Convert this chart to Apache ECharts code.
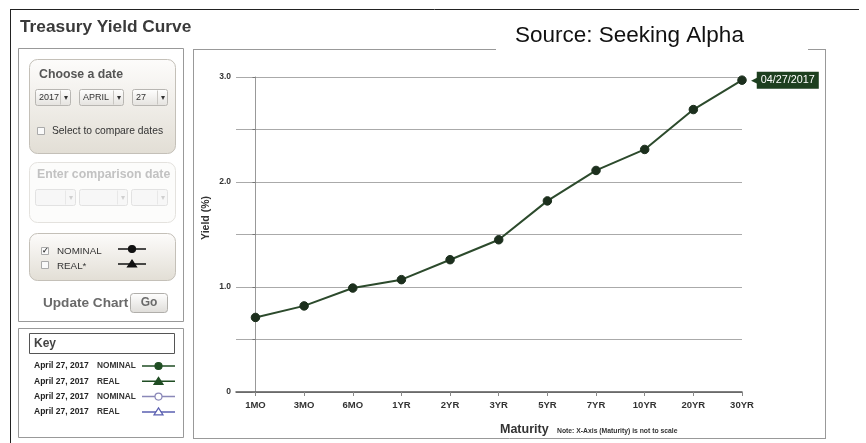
<!DOCTYPE html>
<html>
<head>
<meta charset="utf-8">
<script src="https://cdn.jsdelivr.net/npm/echarts@6/dist/echarts.min.js"></script>
<style>
  html, body { margin: 0; padding: 0; background: #fff; }
  #chart { width: 866px; height: 443px; }
</style>
</head>
<body>
<div id="chart"></div>
<script>
// Maturities along the curve and nominal yields (%) for April 27, 2017
const maturities = ['1MO', '3MO', '6MO', '1YR', '2YR', '3YR', '5YR', '7YR', '10YR', '20YR', '30YR'];
const nominalYields = [0.71, 0.82, 0.99, 1.07, 1.26, 1.45, 1.82, 2.11, 2.31, 2.69, 2.97];
const yTickLabels = { 0: '0', 1: '1.0', 2: '2.0', 3: '3.0' };
const curveDate = '04/27/2017';

const FONT = 'Liberation Sans, Arial, sans-serif';
const seriesData = nominalYields.map((v, i) => [i, v]);

// ---------- side panel widgets ----------
const g = [];
const boxGrad = (c0, c1) => ({
  type: 'linear', x: 0, y: 0, x2: 0, y2: 1,
  colorStops: [{ offset: 0, color: c0 }, { offset: 1, color: c1 }]
});
function rect(x, y, w, h, style, r) {
  g.push({ type: 'rect', shape: { x, y, width: w, height: h, r: r || 0 }, style, silent: true });
}
function text(x, y, t, style, extra) {
  g.push(Object.assign({ type: 'text', x, y, style: Object.assign({ text: t, fontFamily: FONT }, style), silent: true }, extra || {}));
}
function line(x1, y1, x2, y2, stroke, w) {
  g.push({ type: 'line', shape: { x1, y1, x2, y2 }, style: { stroke, lineWidth: w || 1 }, silent: true });
}
function dropdown(x, y, w, label, faded) {
  rect(x, y, w, 16, { fill: faded ? '#f7f7f7' : boxGrad('#ffffff', '#e4e2de'), stroke: faded ? '#e2e2e2' : '#b8b6b2', lineWidth: 1 }, 2);
  line(x + w - 10, y + 1, x + w - 10, y + 15, faded ? '#e8e8e8' : '#c8c6c2');
  if (label) text(x + 3.5, y + 8, label, { fontSize: 9, fill: '#333', verticalAlign: 'middle' });
  text(x + w - 5, y + 8, '▾', { fontSize: 8, fill: faded ? '#d0d0d0' : '#333', align: 'center', verticalAlign: 'middle' });
}
function checkbox(x, y, checked) {
  rect(x, y, 7, 7, { fill: '#fafafa', stroke: '#aaa', lineWidth: 1 });
  if (checked) text(x + 3.5, y + 3.5, '✓', { fontSize: 8, fill: '#333', align: 'center', verticalAlign: 'middle', fontWeight: 'bold' });
}
function keySymbol(x1, x2, y, color, shape, hollow) {
  line(x1, y, x2, y, color, 1.5);
  const cx = (x1 + x2) / 2;
  const style = { fill: hollow ? '#fff' : color, stroke: color, lineWidth: 1.2 };
  if (shape === 'circle') {
    g.push({ type: 'circle', shape: { cx, cy: y, r: 3.5 }, style, silent: true });
  } else {
    g.push({ type: 'polygon', shape: { points: [[cx, y - 4], [cx + 4.5, y + 3], [cx - 4.5, y + 3]] }, style, silent: true });
  }
}

// page frame and heading
line(10, 9.5, 859, 9.5, '#222', 1);
line(10.5, 9, 10.5, 443, '#222', 1);
text(20, 27, 'Treasury Yield Curve', { fontSize: 17.3, fontWeight: 'bold', fill: '#3a3a3a', verticalAlign: 'middle' });

// controls panel
rect(18.5, 48.5, 165, 273, { fill: '#fff', stroke: '#999', lineWidth: 1 });

// "Choose a date"
rect(29.5, 59.5, 146, 94, { fill: boxGrad('#fdfcfb', '#e2ded5'), stroke: '#c4c0b8', lineWidth: 1 }, 8);
text(39, 75, 'Choose a date', { fontSize: 12.3, fontWeight: 'bold', fill: '#555', verticalAlign: 'middle' });
dropdown(35.5, 89.5, 35, '2017');
dropdown(79.5, 89.5, 44, 'APRIL');
dropdown(132.5, 89.5, 35, '27');
checkbox(37.5, 127.5, false);
text(52, 131, 'Select to compare dates', { fontSize: 10.3, fill: '#333', verticalAlign: 'middle' });

// comparison date (disabled)
rect(29.5, 162.5, 146, 60, { fill: '#fcfcfb', stroke: '#e4e2de', lineWidth: 1 }, 8);
text(37, 175, 'Enter comparison date', { fontSize: 12.3, fontWeight: 'bold', fill: '#c2c2c2', verticalAlign: 'middle' });
dropdown(35.5, 189.5, 40, '', true);
dropdown(79.5, 189.5, 48, '', true);
dropdown(131.5, 189.5, 36, '', true);

// series toggles
rect(29.5, 233.5, 146, 47, { fill: boxGrad('#fdfcfb', '#e2ded5'), stroke: '#c4c0b8', lineWidth: 1 }, 8);
checkbox(41.5, 247.5, true);
text(57, 251, 'NOMINAL', { fontSize: 9.8, fill: '#333', verticalAlign: 'middle' });
checkbox(41.5, 261.5, false);
text(57, 266, 'REAL*', { fontSize: 9.8, fill: '#333', verticalAlign: 'middle' });
keySymbol(118, 146, 249, '#111', 'circle', false);
keySymbol(118, 146, 264, '#111', 'triangle', false);

// update button
text(43, 303, 'Update Chart', { fontSize: 13.6, fontWeight: 'bold', fill: '#6a6a6a', verticalAlign: 'middle' });
rect(130.5, 293.5, 37, 19, { fill: boxGrad('#ffffff', '#dedcd8'), stroke: '#b0aeaa', lineWidth: 1 }, 3);
text(149, 303, 'Go', { fontSize: 12, fontWeight: 'bold', fill: '#6a6a6a', align: 'center', verticalAlign: 'middle' });

// key panel
rect(18.5, 328.5, 165, 109, { fill: '#fff', stroke: '#999', lineWidth: 1 });
rect(29.5, 333.5, 145, 20, { fill: '#fff', stroke: '#555', lineWidth: 1 });
text(34, 344, 'Key', { fontSize: 12, fontWeight: 'bold', fill: '#444', verticalAlign: 'middle' });
const keyRows = [
  ['NOMINAL', '#1f4d23', 'circle', false],
  ['REAL', '#1f4d23', 'triangle', false],
  ['NOMINAL', '#8a88b8', 'circle', true],
  ['REAL', '#5a5fb0', 'triangle', true]
];
keyRows.forEach((r, i) => {
  const y = 366 + i * 15.3;
  text(34, y, 'April 27, 2017', { fontSize: 8.5, fontWeight: 'bold', fill: '#222', verticalAlign: 'middle' });
  text(97, y, r[0], { fontSize: 8.3, fontWeight: 'bold', fill: '#333', verticalAlign: 'middle' });
  keySymbol(142, 175, y, r[1], r[2], r[3]);
});

// chart panel frame, top edge broken by the source note
line(193.5, 49, 193.5, 438.5, '#999', 1);
line(825.5, 49, 825.5, 438.5, '#999', 1);
line(193, 438.5, 826, 438.5, '#999', 1);
line(193, 49.5, 496, 49.5, '#999', 1);
line(808, 49.5, 826, 49.5, '#999', 1);
text(515, 36, 'Source: Seeking Alpha', { fontSize: 22.5, fill: '#111', verticalAlign: 'middle' });

// axis titles
text(206, 218, 'Yield (%)', { fontSize: 10.5, fontWeight: 'bold', fill: '#333', align: 'center', verticalAlign: 'middle' }, { rotation: Math.PI / 2 });
text(500, 430, 'Maturity', { fontSize: 12.5, fontWeight: 'bold', fill: '#333', verticalAlign: 'middle' });
text(557, 431, 'Note: X-Axis (Maturity) is not to scale', { fontSize: 6.8, fontWeight: 'bold', fill: '#333', verticalAlign: 'middle' });

const chart = echarts.init(document.getElementById('chart'), null, { renderer: 'canvas' });
chart.setOption({
  animation: false,
  backgroundColor: '#fff',
  textStyle: { fontFamily: FONT },
  grid: { left: 236, right: 124, top: 77, bottom: 51, containLabel: false },
  xAxis: {
    type: 'value',
    min: -0.4,
    max: maturities.length - 1,
    axisLine: { show: true, lineStyle: { color: '#555', width: 1.5 } },
    axisTick: { show: true, length: 4, lineStyle: { color: '#888' }, customValues: maturities.map((_, i) => i) },
    axisLabel: {
      customValues: maturities.map((_, i) => i),
      formatter: v => maturities[Math.round(v)] || '',
      fontSize: 9.5, fontWeight: 'bold', color: '#333', margin: 8
    },
    splitLine: { show: false }
  },
  yAxis: {
    type: 'value',
    min: 0, max: 3, interval: 0.5,
    axisLine: { show: true, lineStyle: { color: '#999', width: 1 } },
    axisTick: { show: true, length: 3, lineStyle: { color: '#777' } },
    axisLabel: {
      formatter: v => yTickLabels[v] !== undefined ? yTickLabels[v] : '',
      fontSize: 8.5, fontWeight: 'bold', color: '#333', margin: 5
    },
    splitLine: { show: true, lineStyle: { color: '#aaa', width: 1 } }
  },
  series: [{
    type: 'line',
    data: seriesData.map((d, i) => i === seriesData.length - 1 ? {
      value: d,
      label: {
        show: true, position: 'right', distance: 4,
        formatter: '{a|◀}{b|' + curveDate + '}',
        rich: {
          a: { color: '#1d3f1f', fontSize: 9, padding: [0, -1, 0, 0] },
          b: { backgroundColor: '#1d3f1f', color: '#fff', fontSize: 10.8, padding: [3, 4, 3, 4], fontFamily: FONT }
        }
      }
    } : d),
    symbol: 'circle',
    symbolSize: 8.5,
    lineStyle: { color: '#2c4a2c', width: 2 },
    itemStyle: { color: '#1c2f1d', borderColor: '#1c2f1d' },
    z: 3
  }],
  graphic: g
});
</script>
</body>
</html>
